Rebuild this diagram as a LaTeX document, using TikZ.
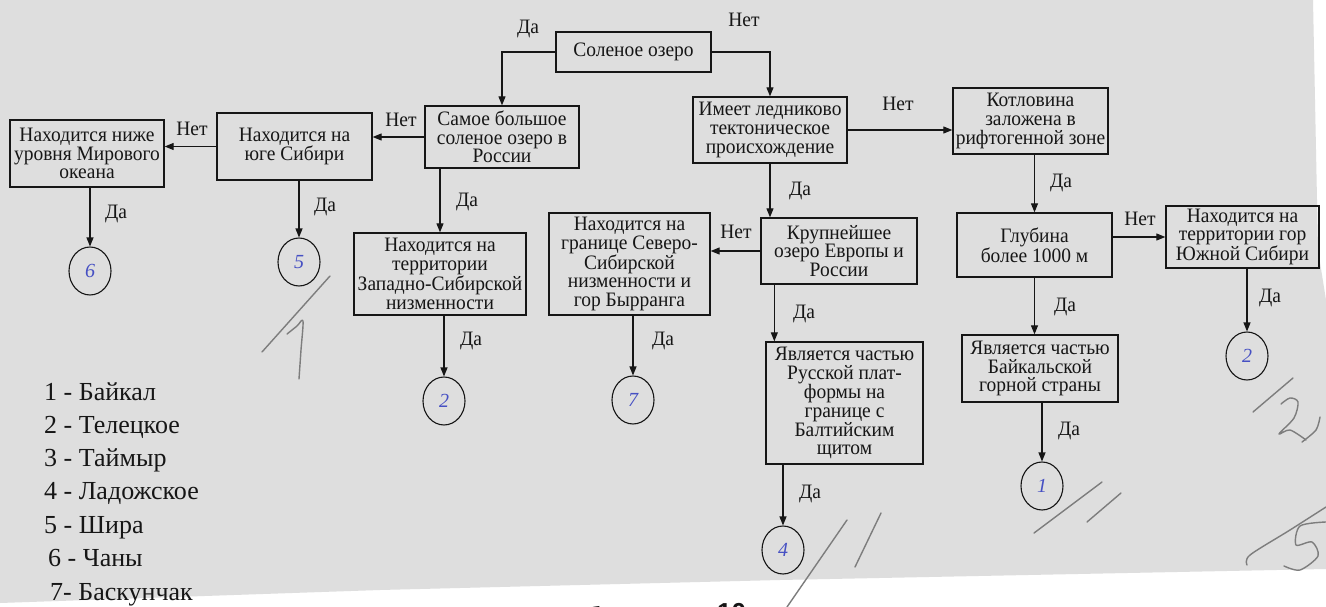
\documentclass[tikz,border=0pt]{standalone}
\usepackage{fontspec}
\setmainfont{Liberation Serif}
\newfontfamily\boxfont[FakeStretch=0.95]{Liberation Serif}
\newfontfamily\sansbold{Liberation Sans}
\usetikzlibrary{arrows.meta,shapes.geometric}
\definecolor{bgscan}{RGB}{222,222,222}
\definecolor{ink}{RGB}{22,22,22}
\definecolor{pen}{RGB}{70,80,195}
\definecolor{pencil}{RGB}{125,125,125}
\tikzset{
  box/.style={draw=ink, line width=1.3pt, align=center, inner sep=0pt, text=ink,
    font=\boxfont\fontsize{20.5}{18.6}\selectfont},
  lbl/.style={text=ink, inner sep=0pt, font=\boxfont\fontsize{20.5}{20}\selectfont},
  conn/.style={draw=ink, line width=1.1pt, -{Triangle[length=9pt,width=7pt]}},
  circ/.style={draw=ink, line width=1.1pt, ellipse, minimum width=42pt,
    minimum height=48pt, inner sep=0pt, text=pen, font=\fontsize{20}{20}\selectfont\itshape},
  legend/.style={anchor=base west, text=ink, inner sep=0pt, font=\fontsize{26}{26}\selectfont},
  pencilline/.style={draw=pencil, line width=1.4pt, line cap=round, line join=round},
  cutoff/.style={anchor=base west, text=ink, inner sep=0pt, font=\sansbold\bfseries\fontsize{26}{26}\selectfont}
}
\begin{document}
\begin{tikzpicture}[x=1pt,y=-1pt]
\useasboundingbox (0,0) rectangle (1326,607);
\fill[white] (0,0) rectangle (1326,607);
\fill[bgscan] (0,0) -- (1313,0) -- (1318,250) -- (1326,300) -- (1326,569) -- (780,580) -- (380,590) -- (0,603) -- cycle;

% boxes
\node[box, minimum width=155pt, minimum height=40pt] (sol) at (633.5,52) {Соленое озеро};
\node[box, minimum width=154pt, minimum height=62pt] (samoe) at (502,137) {Самое большое\\соленое озеро в\\России};
\node[box, minimum width=155pt, minimum height=67pt] (yug) at (294.5,146.5) {Находится на\\юге Сибири};
\node[box, minimum width=154pt, minimum height=67pt] (nizhe) at (87,153.5) {Находится ниже\\уровня Мирового\\океана};
\node[box, minimum width=172pt, minimum height=82pt] (zapad) at (440,274) {Находится на\\территории\\Западно-Сибирской\\низменности};
\node[box, minimum width=161pt, minimum height=102pt] (granitse) at (629.5,264) {Находится на\\границе Северо-\\Сибирской\\низменности и\\гор Бырранга};
\node[box, minimum width=154pt, minimum height=66pt] (imeet) at (770,130) {Имеет ледниково\\тектоническое\\происхождение};
\node[box, minimum width=155pt, minimum height=66pt] (kotl) at (1030.5,121) {Котловина\\заложена в\\рифтогенной зоне};
\node[box, minimum width=156pt, minimum height=66pt] (krup) at (839,251) {Крупнейшее\\озеро Европы и\\России};
\node[box, minimum width=155pt, minimum height=64pt] (glub) at (1034.5,245) {Глубина\\более 1000 м};
\node[box, minimum width=153pt, minimum height=62pt] (yuzh) at (1242.5,237) {Находится на\\территории гор\\Южной Сибири};
\node[box, minimum width=157pt, minimum height=122pt] (russ) at (844.5,403) {Является частью\\Русской плат-\\формы на\\границе с\\Балтийским\\щитом};
\node[box, minimum width=156pt, minimum height=67pt] (baik) at (1040,368.5) {Является частью\\Байкальской\\горной страны};

% answer circles
\node[circ] (c6) at (90,271) {6};
\node[circ] (c5) at (299,262) {5};
\node[circ] (c2a) at (444,401) {2};
\node[circ] (c7) at (633,400) {7};
\node[circ] (c4) at (783,550) {4};
\node[circ] (c1) at (1042,486) {1};
\node[circ] (c2b) at (1247,356) {2};

% connectors
\draw[conn] (sol.west) -| (samoe.north);
\draw[conn] (sol.east) -| (imeet.north);
\draw[conn] (samoe.west) -- (samoe.west -| yug.east);
\draw[conn] (yug.west) -- (yug.west -| nizhe.east);
\draw[conn] (c6.north |- nizhe.south) -- (c6.north);
\draw[conn] (c5.north |- yug.south) -- (c5.north);
\draw[conn] (zapad.north |- samoe.south) -- (zapad.north);
\draw[conn] (c2a.north |- zapad.south) -- (c2a.north);
\draw[conn] (c7.north |- granitse.south) -- (c7.north);
\draw[conn] (imeet.east) -- (imeet.east -| kotl.west);
\draw[conn] (imeet.south) -- (imeet.south |- krup.north);
\draw[conn] (krup.west) -- (krup.west -| granitse.east);
\draw[conn] ([xshift=14pt]krup.south west) -- ([xshift=14pt]krup.south west |- russ.north);
\draw[conn] (c4.north |- russ.south) -- (c4.north);
\draw[conn] (glub.north |- kotl.south) -- (glub.north);
\draw[conn] (glub.east |- yuzh.west) -- (yuzh.west);
\draw[conn] (glub.south) -- (glub.south |- baik.north);
\draw[conn] (c1.north |- baik.south) -- (c1.north);
\draw[conn] (c2b.north |- yuzh.south) -- (c2b.north);

% labels
\node[lbl] (l1) at (528,29) {Да};
\node[lbl] (l2) at (744,20) {Нет};
\node[lbl] (l3) at (401,120) {Нет};
\node[lbl] (l4) at (192,129) {Нет};
\node[lbl] (l5) at (116,214) {Да};
\node[lbl] (l6) at (325,207) {Да};
\node[lbl] (l7) at (467,202) {Да};
\node[lbl] (l8) at (471,341) {Да};
\node[lbl] (l9) at (663,341) {Да};
\node[lbl] (l10) at (898,104) {Нет};
\node[lbl] (l11) at (800,191) {Да};
\node[lbl] (l12) at (1061,183) {Да};
\node[lbl] (l13) at (736,232) {Нет};
\node[lbl] (l14) at (1140,219) {Нет};
\node[lbl] (l15) at (1270,298) {Да};
\node[lbl] (l16) at (804,314) {Да};
\node[lbl] (l17) at (1065,307) {Да};
\node[lbl] (l18) at (810,494) {Да};
\node[lbl] (l19) at (1069,431) {Да};

% legend
\node[legend] (g1) at (44,400) {1 - Байкал};
\node[legend] (g2) at (44,433) {2 - Телецкое};
\node[legend] (g3) at (44,466) {3 - Таймыр};
\node[legend] (g4) at (44,499) {4 - Ладожское};
\node[legend] (g5) at (44,533) {5 - Шира};
\node[legend] (g6) at (48,566) {6 - Чаны};
\node[legend] (g7) at (50,600) {7- Баскунчак};

% caption cut off by the lower edge of the scan
\node[cutoff] (cap1) at (585,625) {б};
\node[cutoff] (cap2) at (717,621) {10};

% pencil marks
\draw[pencilline] (330,276) -- (262,352);
\draw[pencilline] plot[smooth] coordinates {(287,334) (297,326) (303,321) (301,350) (299,379)};
\draw[pencilline] (847,520) -- (787,607);
\draw[pencilline] (881,513) -- (855,567);
\draw[pencilline] (1102,482) -- (1034,533);
\draw[pencilline] (1121,493) -- (1087,522);
\draw[pencilline] (1293,378) -- (1253,412);
\draw[pencilline] plot[smooth] coordinates {(1281,404) (1290,398) (1298,402) (1294,418) (1279,434) (1290,430) (1306,440)};
\draw[pencilline] plot[smooth] coordinates {(1320,417) (1316,430) (1302,442)};
\draw[pencilline] plot[smooth] coordinates {(1326,507) (1290,530) (1250,555) (1247,565)};
\draw[pencilline] plot[smooth] coordinates {(1326,522) (1300,526) (1296,545) (1312,542) (1318,556) (1300,570) (1284,566)};
\end{tikzpicture}
\end{document}
